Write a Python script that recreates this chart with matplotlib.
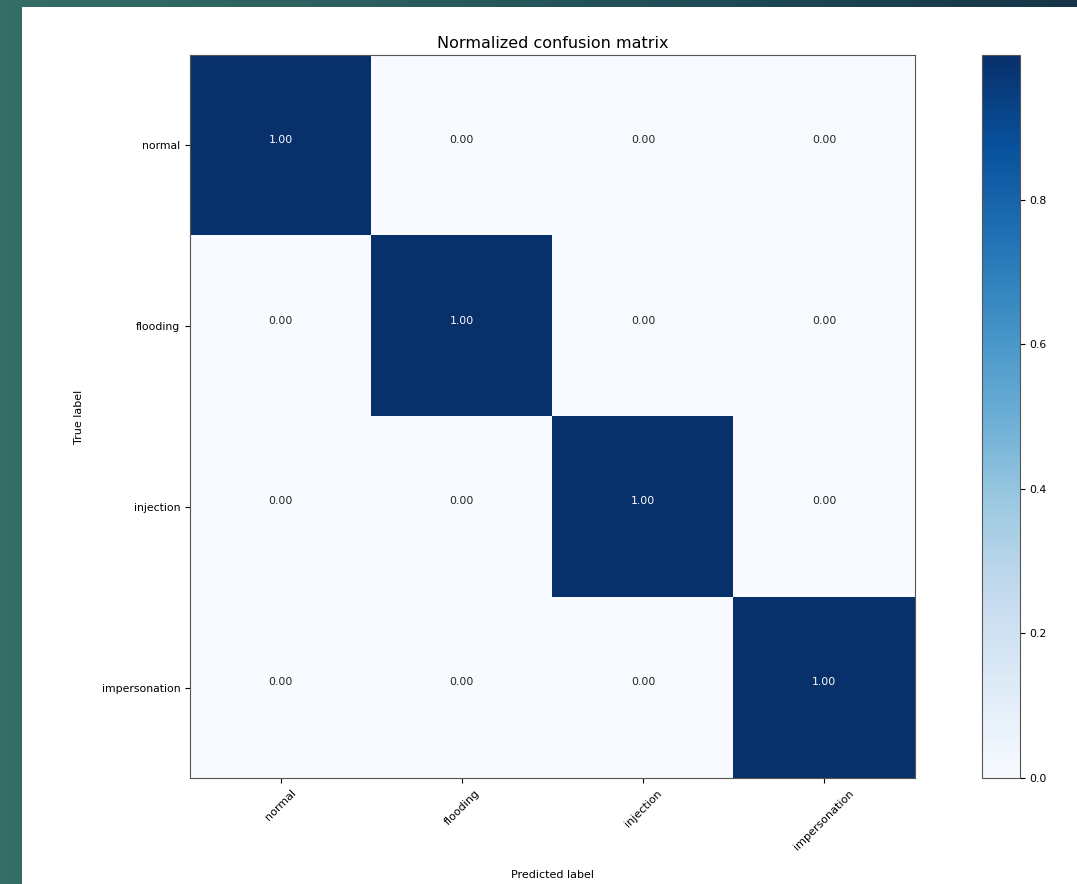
import numpy as np
import matplotlib
matplotlib.use("Agg")
import matplotlib.pyplot as plt
from matplotlib.colors import LinearSegmentedColormap

# Normalized confusion matrix values
classes = ["normal", "flooding", "injection", "impersonation"]
cm = np.array([
    [1.0, 0.0, 0.0, 0.0],
    [0.0, 1.0, 0.0, 0.0],
    [0.0, 0.0, 1.0, 0.0],
    [0.0, 0.0, 0.0, 1.0],
])

W, H = 1077, 884
fig = plt.figure(figsize=(W / 100, H / 100), dpi=100)

# slide background: teal on the left fading to dark navy on the right
bg = fig.add_axes([0, 0, 1, 1], zorder=-10)
bg_cmap = LinearSegmentedColormap.from_list("slide", ["#346e66", "#2c5f5e", "#1f4a56", "#163548"])
grad = np.tile(np.linspace(0, 1, 256), (2, 1))
bg.imshow(grad, cmap=bg_cmap, aspect="auto", extent=[0, 1, 0, 1])
bg.axis("off")

# white page area
page = fig.add_axes([22 / W, 0, (W - 22) / W, (H - 7) / H], zorder=-5)
page.set_facecolor("white")
page.set_xticks([])
page.set_yticks([])
for s in page.spines.values():
    s.set_visible(False)

ax = fig.add_axes([190 / W, (H - 778) / H, 725 / W, 723 / H])
im = ax.imshow(cm, interpolation="nearest", cmap=plt.cm.Blues, vmin=0, vmax=1, aspect="auto")
ax.set_title("Normalized confusion matrix", fontsize=11.5, pad=5)

tick_marks = np.arange(len(classes))
ax.set_xticks(tick_marks)
ax.set_xticklabels(classes, rotation=45, fontsize=8)
ax.set_yticks(tick_marks)
ax.set_yticklabels(classes, fontsize=7.8)
for s in ax.spines.values():
    s.set_color("#555555")

thresh = cm.max() / 2.0
for i in range(cm.shape[0]):
    for j in range(cm.shape[1]):
        ax.text(j, i - 0.03, format(cm[i, j], ".2f"), ha="center", va="center", fontsize=7.8,
                color="white" if cm[i, j] > thresh else "#222222")

ax.set_ylabel("True label", fontsize=8, labelpad=13)
ax.set_xlabel("Predicted label", fontsize=8, labelpad=13)

cax = fig.add_axes([982 / W, (H - 778) / H, 38 / W, 723 / H])
cb = fig.colorbar(im, cax=cax, ticks=[0.0, 0.2, 0.4, 0.6, 0.8])
cb.ax.tick_params(labelsize=7.8)
cb.outline.set_edgecolor("#555555")

fig.savefig("out.png", dpi=100)
